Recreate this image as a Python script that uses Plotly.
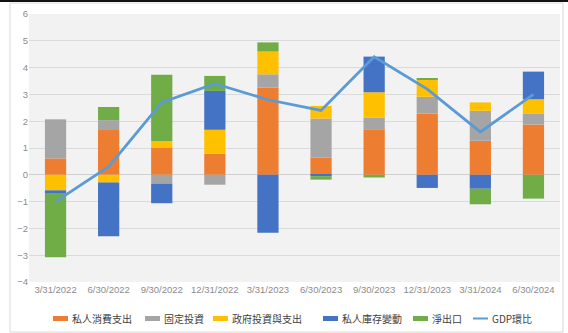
import plotly.graph_objects as go

# Quarterly contributions to US real GDP growth (percentage points) and GDP QoQ annualized
quarters = ['3/31/2022', '6/30/2022', '9/30/2022', '12/31/2022', '3/31/2023',
            '6/30/2023', '9/30/2023', '12/31/2023', '3/31/2024', '6/30/2024']
consumption = [0.61, 1.67, 1.02, 0.79, 3.25, 0.64, 1.70, 2.29, 1.27, 1.88]
fixed_investment = [1.46, 0.37, -0.33, -0.37, 0.50, 1.46, 0.44, 0.62, 1.12, 0.41]
government = [-0.58, -0.29, 0.23, 0.89, 0.85, 0.47, 0.94, 0.63, 0.31, 0.53]
inventories = [-0.10, -2.00, -0.73, 1.45, -2.16, -0.05, 1.33, -0.49, -0.52, 1.03]
net_exports = [-2.40, 0.49, 2.48, 0.56, 0.34, -0.13, -0.10, 0.07, -0.58, -0.89]
gdp_qoq = [-1.0, 0.3, 2.7, 3.4, 2.8, 2.4, 4.4, 3.2, 1.6, 3.0]

series = [
    ('私人消費支出', consumption, '#ED7D31'),
    ('固定投資', fixed_investment, '#A5A5A5'),
    ('政府投資與支出', government, '#FFC000'),
    ('私人庫存變動', inventories, '#4472C4'),
    ('淨出口', net_exports, '#70AD47'),
]
line_name = 'GDP環比'
line_color = '#5B9BD5'

W, H = 568, 333
M_L, M_R, M_T, M_B = 29, 8, 14, 51
PW, PH = W - M_L - M_R, H - M_T - M_B


def px_x(p):
    """pixel column -> paper x"""
    return (p - M_L) / PW


def px_y(p):
    """pixel row -> paper y"""
    return (H - M_B - p) / PH


fig = go.Figure()
for name, vals, color in series:
    fig.add_trace(go.Bar(x=quarters, y=vals, name=name, marker_color=color,
                         marker_line_width=0))
fig.add_trace(go.Scatter(x=quarters, y=gdp_qoq, mode='lines', name=line_name,
                         line=dict(color=line_color, width=2.8)))

tick_font = dict(family='Liberation Sans Narrow, Arial Narrow, Liberation Sans, sans-serif',
                 size=9.5, color='#8C8C8C')

# legend row below the axis: short colour strokes followed by labels
legend_font = dict(family='Noto Sans CJK TC, sans-serif', size=10, color='#404040')
legend_left = [53, 145, 213, 323, 413, 473]
legend_y = 318.5
shapes = []
annotations = []
entries = [(n, c) for n, _, c in series] + [(line_name, line_color)]
for (name, color), left in zip(entries, legend_left):
    if name == line_name:
        shapes.append(dict(type='line', xref='paper', yref='paper',
                           x0=px_x(left), x1=px_x(left + 15),
                           y0=px_y(legend_y), y1=px_y(legend_y),
                           line=dict(color=color, width=2)))
    else:
        shapes.append(dict(type='rect', xref='paper', yref='paper',
                           x0=px_x(left), x1=px_x(left + 15),
                           y0=px_y(legend_y + 2.5), y1=px_y(legend_y - 2.5),
                           fillcolor=color, line=dict(width=0)))
    annotations.append(dict(text=name, xref='paper', yref='paper',
                            x=px_x(left + 17), y=px_y(legend_y),
                            xanchor='left', yanchor='middle', showarrow=False,
                            font=legend_font))

# chart frame and the dark rule along the top edge
shapes.append(dict(type='rect', xref='paper', yref='paper',
                   x0=px_x(10), x1=px_x(563), y0=px_y(332), y1=px_y(3),
                   line=dict(color='#D9D9D9', width=1), layer='below'))
shapes.append(dict(type='line', xref='paper', yref='paper',
                   x0=px_x(-2), x1=px_x(570), y0=px_y(1), y1=px_y(1),
                   line=dict(color='#111111', width=2)))

fig.update_layout(
    width=W, height=H,
    margin=dict(l=M_L, r=M_R, t=M_T, b=M_B, autoexpand=False),
    paper_bgcolor='white',
    plot_bgcolor='#F2F2F2',
    barmode='relative',
    bargap=0.6,
    showlegend=False,
    xaxis=dict(type='category', showgrid=False, zeroline=False, showline=False,
               ticks='', tickfont=tick_font, tickangle=0, automargin=False),
    yaxis=dict(range=[-4, 6], dtick=1, showgrid=True, gridcolor='#DADADA', gridwidth=1,
               zeroline=True, zerolinecolor='#D0D0D0', zerolinewidth=1,
               showline=False, ticks='', tickfont=tick_font, automargin=False),
    shapes=shapes,
    annotations=annotations,
)

fig.write_html('out.html')
